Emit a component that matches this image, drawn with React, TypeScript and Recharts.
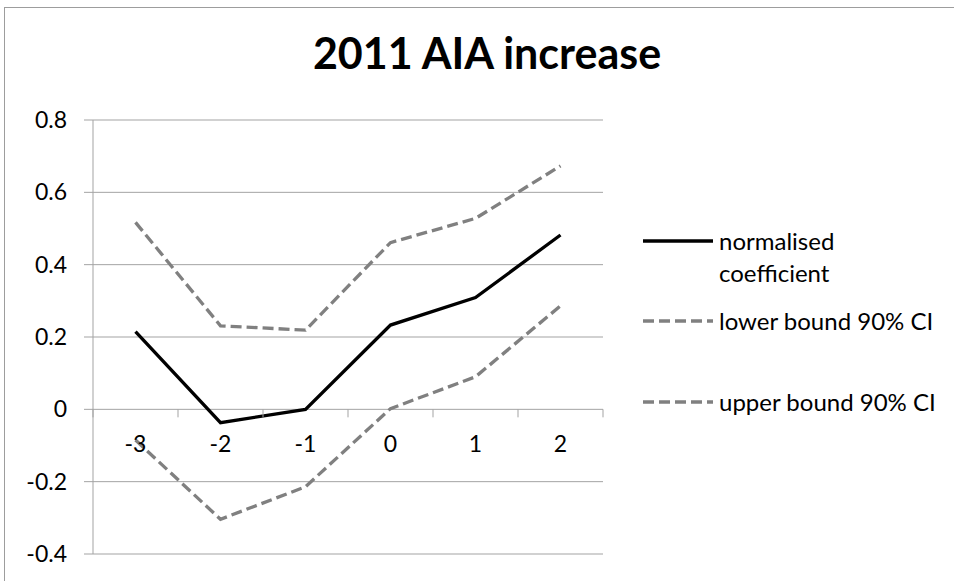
import { LineChart, Line, XAxis, YAxis, CartesianGrid } from 'recharts';

const categories = ['-3', '-2', '-1', '0', '1', '2'];
const coefficient = [0.215, -0.037, 0, 0.233, 0.309, 0.482];
const lowerBound = [-0.085, -0.304, -0.214, 0.002, 0.09, 0.286];
const upperBound = [0.517, 0.231, 0.219, 0.461, 0.528, 0.673];
const yTicks = [-0.4, -0.2, 0, 0.2, 0.4, 0.6, 0.8];

const seriesInfo = [
  { key: 'coefficient', label: ['normalised', 'coefficient'], color: '#000000', dash: undefined },
  { key: 'lower', label: ['lower bound 90% CI'], color: '#808080', dash: '11 5' },
  { key: 'upper', label: ['upper bound 90% CI'], color: '#808080', dash: '11 5' },
];

const data = categories.map((c, i) => ({
  cat: c,
  coefficient: coefficient[i],
  lower: lowerBound[i],
  upper: upperBound[i],
}));

const W = 954;
const H = 581;
const PLOT_LEFT = 93;
const PLOT_RIGHT = 603;
const PLOT_TOP = 120;
const PLOT_BOTTOM = 554;
const Y_MIN = -0.4;
const Y_MAX = 0.8;
const ZERO_Y = PLOT_TOP + ((Y_MAX - 0) / (Y_MAX - Y_MIN)) * (PLOT_BOTTOM - PLOT_TOP);
const BAND = (PLOT_RIGHT - PLOT_LEFT) / categories.length;
const FONT = 'Lato, "Open Sans", sans-serif';
const GRID = '#a3a3a3';

// category labels sit on the zero line, ticks fall between categories (Excel style)
function CategoryTick(props: any) {
  const { x, payload, index } = props;
  const last = index === categories.length - 1;
  return (
    <g>
      <line x1={x - BAND / 2} x2={x - BAND / 2} y1={ZERO_Y} y2={ZERO_Y + 8} stroke={GRID} />
      {last && <line x1={x + BAND / 2} x2={x + BAND / 2} y1={ZERO_Y} y2={ZERO_Y + 8} stroke={GRID} />}
      <text x={x} y={ZERO_Y + 35} dy="0.355em" textAnchor="middle" fill="#000" fontSize={23} fontFamily={FONT}>
        {payload.value}
      </text>
    </g>
  );
}

const legendY = [241, 321, 402];

export default function App() {
  return (
    <div style={{ position: 'absolute', left: 0, top: 0, width: W, height: H, overflow: 'hidden', background: '#fff', fontFamily: FONT }}>
      <div style={{ position: 'absolute', left: 4, top: 7, width: W - 4, height: H - 7, borderTop: '1px solid #9d9d9d', borderLeft: '1px solid #9d9d9d' }} />
      <div style={{ position: 'absolute', left: 4, width: 966, top: 31, lineHeight: 1, fontSize: 43, fontWeight: 700, textAlign: 'center', color: '#000' }}>
        2011 AIA increase
      </div>
      <div style={{ position: 'absolute', left: 0, top: 0 }}>
        <LineChart width={W} height={H} data={data} margin={{ top: PLOT_TOP, right: W - PLOT_RIGHT, bottom: H - PLOT_BOTTOM - 1, left: 0 }}>
          <CartesianGrid vertical={false} stroke={GRID} />
          <XAxis
            dataKey="cat"
            height={1}
            axisLine={false}
            tickLine={false}
            padding={{ left: BAND / 2, right: BAND / 2 }}
            tick={(p: any) => <CategoryTick {...p} />}
            interval={0}
          />
          <YAxis
            domain={[Y_MIN, Y_MAX]}
            ticks={yTicks}
            width={PLOT_LEFT}
            tickSize={9}
            tickMargin={17}
            axisLine={{ stroke: GRID }}
            tickLine={{ stroke: GRID }}
            tick={{ fill: '#000', fontSize: 23, fontFamily: FONT }}
            allowDataOverflow
          />
          {seriesInfo.map(s => (
            <Line
              key={s.key}
              type="linear"
              dataKey={s.key}
              stroke={s.color}
              strokeWidth={3.3}
              strokeDasharray={s.dash}
              dot={false}
              activeDot={false}
              isAnimationActive={false}
            />
          ))}
        </LineChart>
      </div>
      {seriesInfo.map((s, i) => (
        <div key={s.key} style={{ position: 'absolute', left: 643, top: legendY[i] - 16, display: 'flex', alignItems: 'flex-start' }}>
          <svg width={70} height={32} style={{ flex: 'none' }}>
            <line x1={0} x2={70} y1={16} y2={16} stroke={s.color} strokeWidth={3.3} strokeDasharray={s.dash} />
          </svg>
          <div style={{ marginLeft: 6, fontSize: 24, lineHeight: '32px', color: '#000', whiteSpace: 'nowrap' }}>
            {s.label.map(t => (
              <div key={t}>{t}</div>
            ))}
          </div>
        </div>
      ))}
    </div>
  );
}
